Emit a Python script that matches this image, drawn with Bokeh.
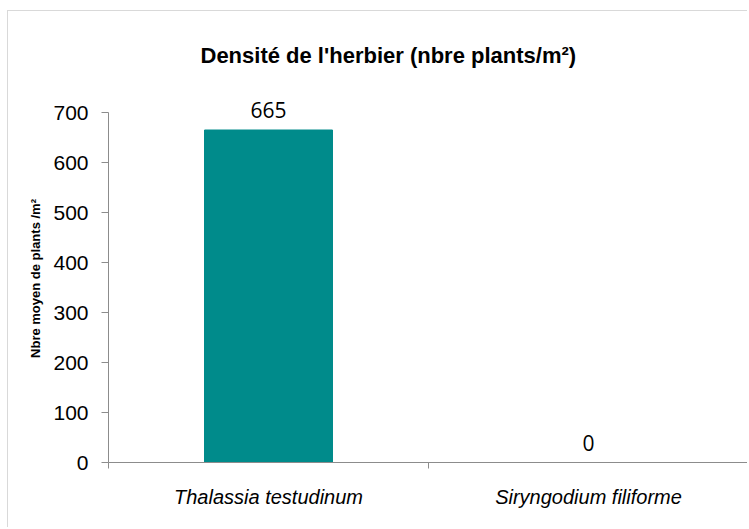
from bokeh.plotting import figure
from bokeh.models import ColumnDataSource, Range1d, FixedTicker, LinearAxis, CategoricalAxis, LabelSet
from bokeh.embed import file_html
from bokeh.resources import INLINE
from bokeh.core.properties import value

categories = ["Thalassia testudinum", "Siryngodium filiforme"]
densities = [665, 0]
y_ticks = [0, 100, 200, 300, 400, 500, 600, 700]
y_axis_max = 700
title_text = "Densité de l'herbier (nbre plants/m²)"
y_label = "Nbre moyen de plants /m²"

src = ColumnDataSource(dict(cat=categories, val=densities, lbl=[str(v) for v in densities]))

AXIS_COLOR = "#8c8c8c"

p = figure(width=740, height=517, x_range=categories, y_range=Range1d(0, 736),
           output_backend="svg", toolbar_location=None, x_axis_location=None,
           min_border_left=100, min_border_right=0, min_border_bottom=66, min_border_top=83,
           styles={"margin-left": "7px", "margin-top": "10px",
                   "border-left": "1px solid #d9d9d9", "border-top": "1px solid #d9d9d9"})

p.grid.visible = False
p.outline_line_color = None

# tick marks at category boundaries (synthetic coordinates of the factor range)
tick_axis = LinearAxis(ticker=FixedTicker(ticks=list(range(len(categories) + 1))),
                       major_label_text_font_size="0px", major_label_standoff=0,
                       major_tick_out=6, major_tick_in=0,
                       axis_line_color=AXIS_COLOR, major_tick_line_color=AXIS_COLOR,
                       minor_tick_line_color=None)
p.add_layout(tick_axis, "below")

cat_axis = CategoricalAxis(axis_line_color=None, major_tick_line_color=None,
                           minor_tick_line_color=None,
                           major_label_text_font_style="italic",
                           major_label_text_font="Liberation Sans",
                           major_label_text_font_size="20px",
                           major_label_text_color="black",
                           major_label_standoff=11)
p.add_layout(cat_axis, "below")

yax = p.yaxis[0]
yax.ticker = FixedTicker(ticks=y_ticks)
yax.bounds = (0, y_axis_max)
yax.axis_line_color = AXIS_COLOR
yax.major_tick_line_color = AXIS_COLOR
yax.minor_tick_line_color = None
yax.major_tick_out = 7
yax.major_tick_in = 0
yax.major_label_standoff = 13
yax.major_label_text_font = "Liberation Sans"
yax.major_label_text_font_size = "21px"
yax.major_label_text_color = "black"
yax.axis_label = y_label
yax.axis_label_text_font = "Liberation Sans"
yax.axis_label_text_font_style = "bold"
yax.axis_label_text_font_size = "13px"
yax.axis_label_text_color = "black"
yax.axis_label_standoff = 7

p.vbar(x="cat", top="val", width=0.4, source=src, color="#008B8B")

labels = LabelSet(x="cat", y="val", text="lbl", source=src, y_offset=12,
                  text_align="center", text_baseline="bottom",
                  text_font=value("Open Sans"), text_font_size="21px", text_color="black")
p.add_layout(labels)

p.title.text = title_text
p.title.align = "left"
p.title.vertical_align = "top"
p.title.offset = 92
p.title.standoff = 50
p.title.text_font = "Liberation Sans"
p.title.text_font_size = "22px"
p.title.text_font_style = "bold"
p.title.text_color = "black"

open("out.html", "w").write(file_html(p, INLINE))
